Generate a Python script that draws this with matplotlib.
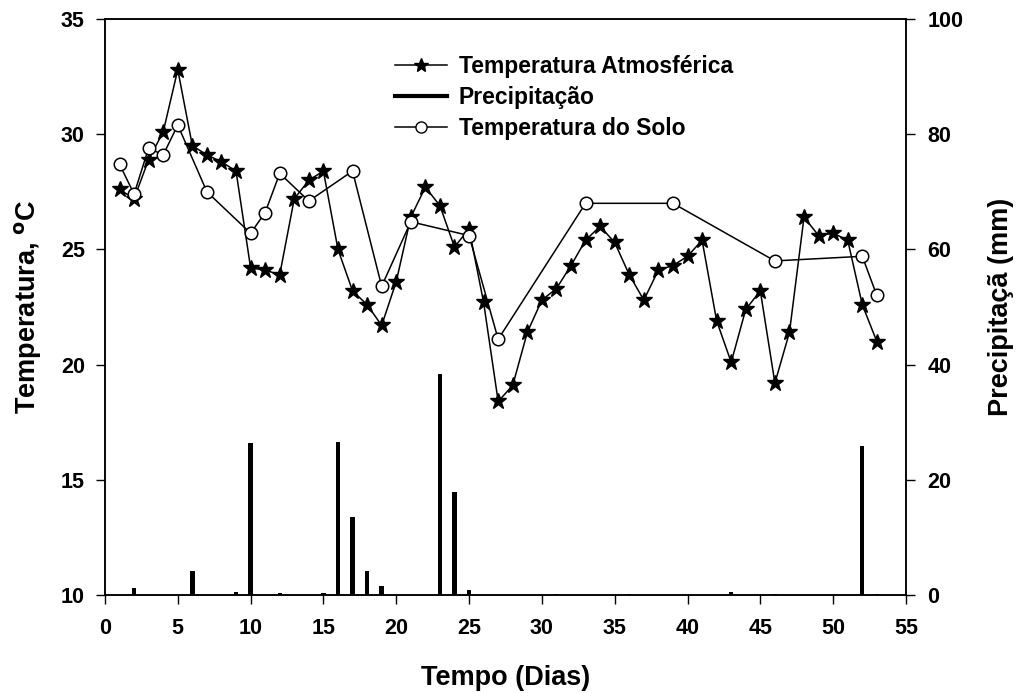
import matplotlib
matplotlib.use("Agg")
import matplotlib.pyplot as plt
from matplotlib.lines import Line2D

plt.rcParams['font.family'] = ['Liberation Sans', 'DejaVu Sans']
plt.rcParams['font.weight'] = 'bold'

# Air temperature (°C), daily
air_days = list(range(1, 54))
air_temp = [27.6, 27.2, 28.9, 30.1, 32.8, 29.5, 29.1, 28.8, 28.4, 24.2,
            24.1, 23.9, 27.2, 28.0, 28.4, 25.0, 23.2, 22.6, 21.7, 23.6,
            26.4, 27.7, 26.9, 25.1, 25.9, 22.7, 18.4, 19.1, 21.4, 22.8,
            23.3, 24.3, 25.4, 26.0, 25.3, 23.9, 22.8, 24.1, 24.3, 24.7,
            25.4, 21.9, 20.1, 22.4, 23.2, 19.2, 21.4, 26.4, 25.6, 25.7,
            25.4, 22.6, 21.0]

# Soil temperature (°C), measured on selected days
soil_days = [1, 2, 3, 4, 5, 7, 10, 11, 12, 14, 17, 19, 21, 25, 27, 33, 39, 46, 52, 53]
soil_temp = [28.7, 27.4, 29.4, 29.1, 30.4, 27.5, 25.7, 26.6, 28.3, 27.1,
             28.4, 23.4, 26.2, 25.6, 21.1, 27.0, 27.0, 24.5, 24.7, 23.0]

# Rainfall (mm)
rain_days = [2, 6, 9, 10, 12, 15, 16, 17, 18, 19, 23, 24, 25, 31, 36, 43, 46, 52, 53]
rain_mm = [1.3, 4.2, 0.5, 26.4, 0.3, 0.3, 26.6, 13.5, 4.2, 1.5, 38.3, 17.9, 0.8,
           0.2, 0.2, 0.5, 0.2, 25.8, 0.2]

x_ticks = list(range(0, 56, 5))
temp_ticks = [10, 15, 20, 25, 30, 35]
rain_ticks = [0, 20, 40, 60, 80, 100]

fig = plt.figure(figsize=(10.16, 6.93), dpi=100)
ax = fig.add_axes([0.1033, 0.1414, 0.7884, 0.8312])
ax2 = ax.twinx()

ax2.bar(rain_days, rain_mm, width=0.3, color='black', zorder=2)
ax2.set_ylim(0, 100)
ax2.set_yticks(rain_ticks)

ax.set_zorder(ax2.get_zorder() + 1)
ax.patch.set_visible(False)

ax.plot(air_days, air_temp, color='black', lw=1.1, marker='*', ms=12,
        mfc='black', mec='black', zorder=3)
ax.plot(soil_days, soil_temp, color='black', lw=1.1, marker='o', ms=9,
        mfc='white', mec='black', mew=1.1, zorder=4)

ax.set_xlim(0, 55)
ax.set_ylim(10, 35)
ax.set_xticks(x_ticks)
ax.set_yticks(temp_ticks)

for a in (ax, ax2):
    a.tick_params(direction='out', length=6.5, width=1, labelsize=15.5)
    for sp in a.spines.values():
        sp.set_linewidth(1.1)
ax.tick_params(axis='x', pad=10)
ax.tick_params(axis='y', pad=8)
ax2.tick_params(axis='y', pad=9)

ax.set_xlabel('Tempo (Dias)', fontsize=19.5, fontweight='bold', labelpad=19)
ax.set_ylabel('Temperatura, $^{\\mathbf{o}}$C', fontsize=19.5, fontweight='bold', labelpad=12)
ax2.set_ylabel('Precipitaçã (mm)', fontsize=19.5, fontweight='bold', labelpad=18)

handles = [
    Line2D([], [], color='black', lw=1.1, marker='*', ms=10, mfc='black'),
    Line2D([], [], color='black', lw=3),
    Line2D([], [], color='black', lw=1.1, marker='o', ms=8, mfc='white'),
]
labels = ['Temperatura Atmosférica', 'Precipitação', 'Temperatura do Solo']
ax.legend(handles, labels, loc='upper left', bbox_to_anchor=(0.389, 0.920),
          bbox_transform=fig.transFigure, frameon=False, fontsize=16.5,
          handlelength=2.26, handletextpad=0.52, labelspacing=0.35,
          borderpad=0, borderaxespad=0)

fig.savefig('out.png', dpi=100)
